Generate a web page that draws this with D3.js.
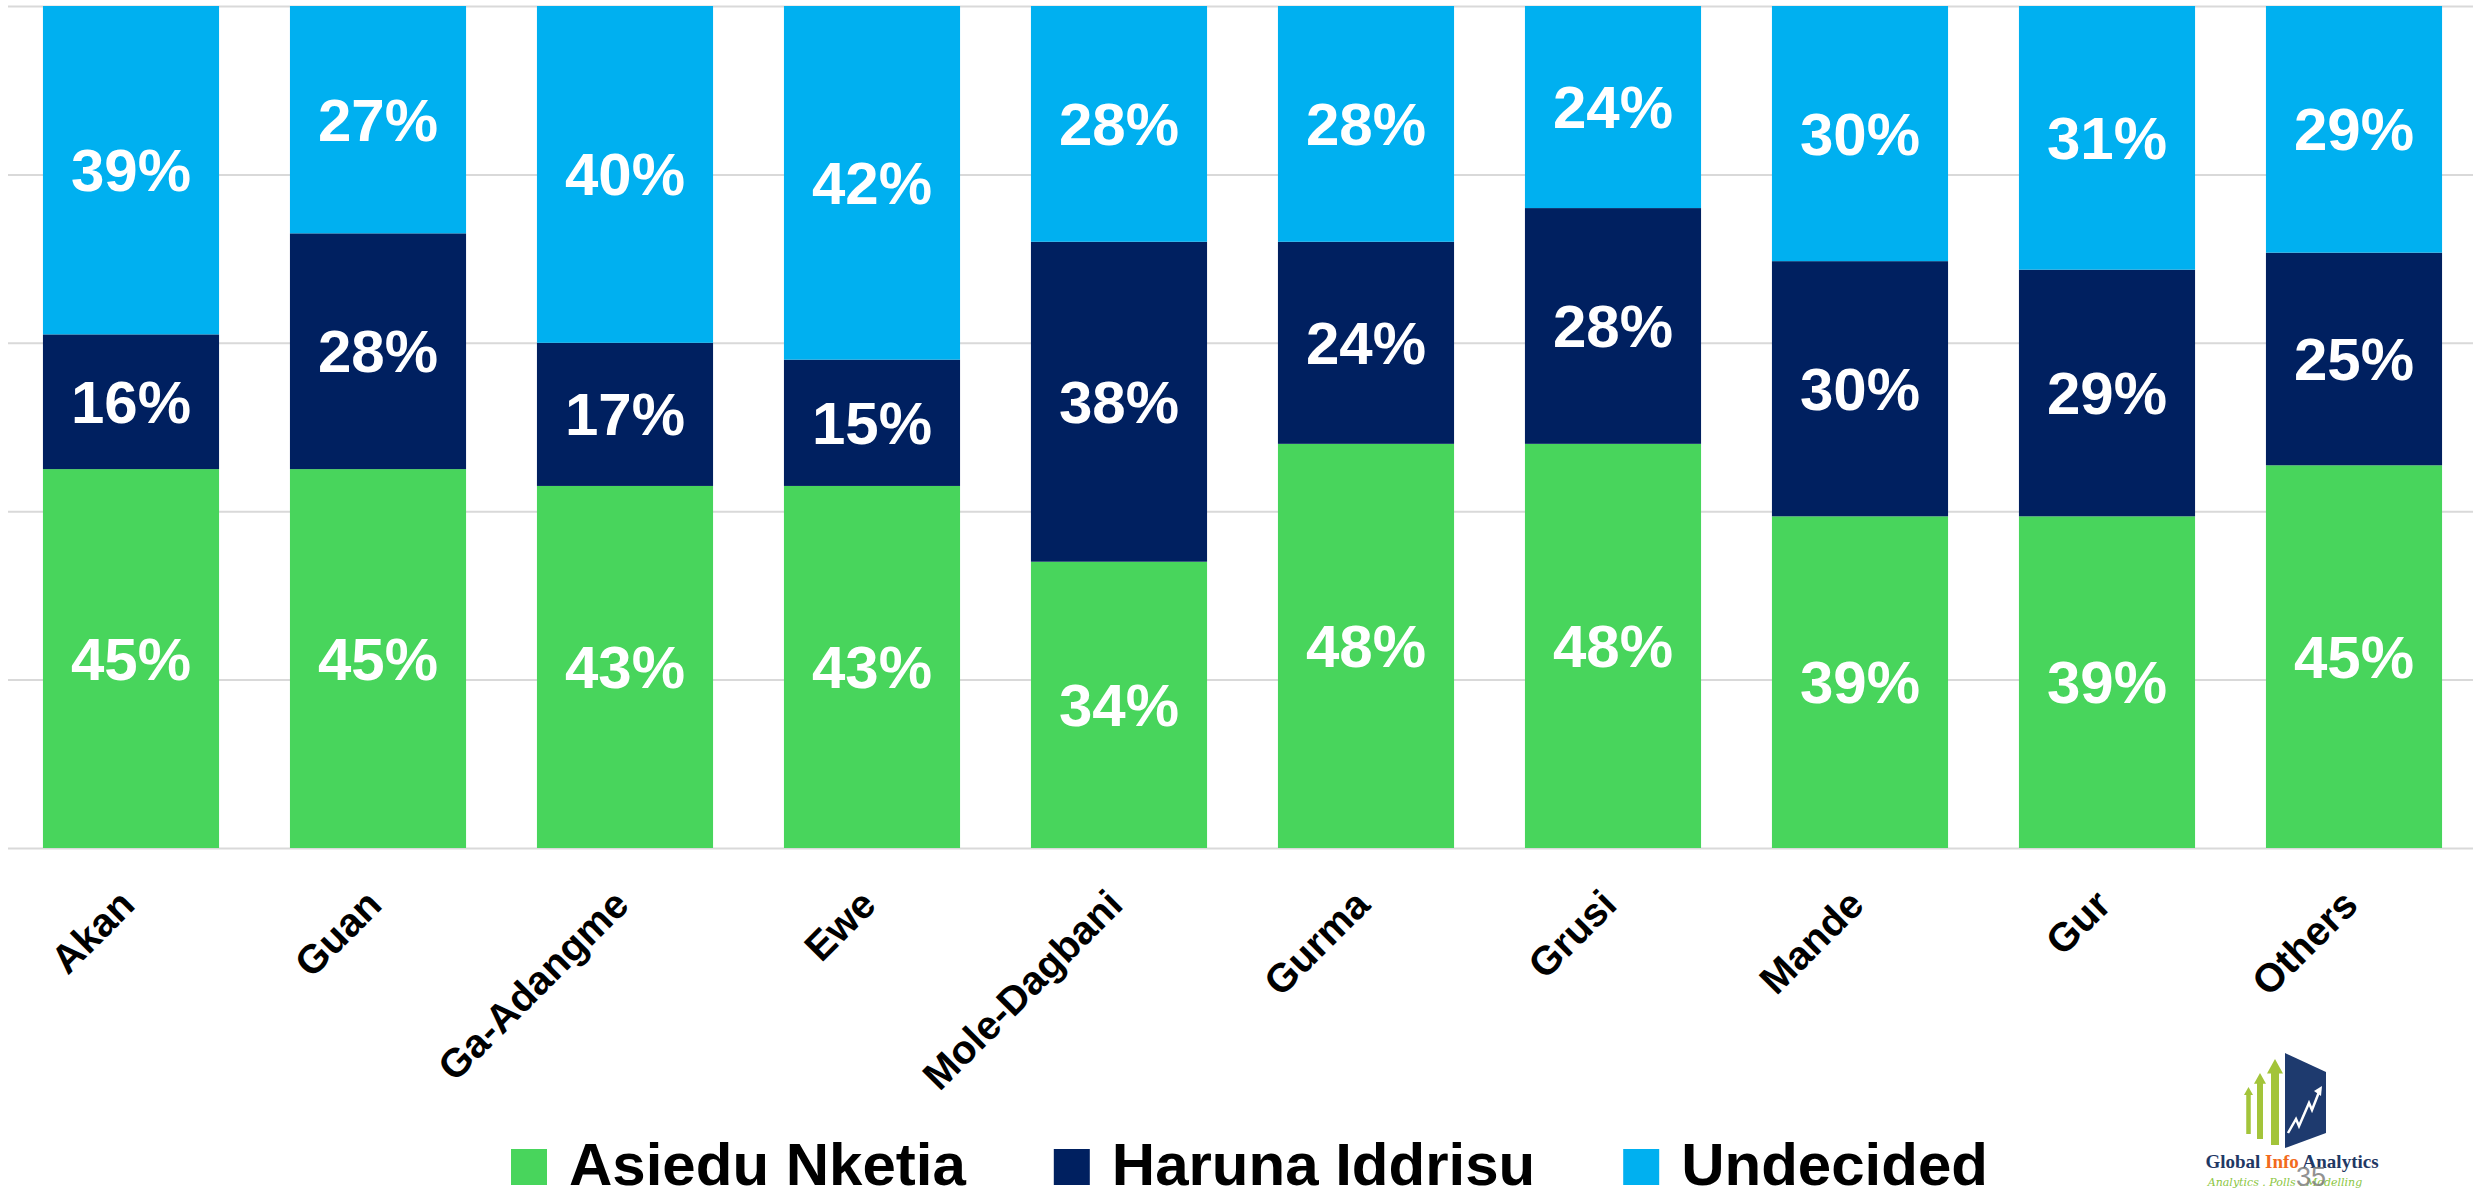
<!DOCTYPE html>
<html>
<head>
<meta charset="utf-8">
<script src="https://cdn.jsdelivr.net/npm/d3@7"></script>
<style>
  html, body { margin: 0; padding: 0; background: #fff; }
  svg { display: block; font-family: Arial, "Liberation Sans", sans-serif; }
  .grid line { stroke: #d9d9d9; stroke-width: 2; }
  .xaxis text { font-size: 40px; font-weight: bold; fill: #000; }
  .val { font-size: 60px; font-weight: bold; fill: #fff; }
  .leg { font-size: 60px; font-weight: bold; fill: #000; }
</style>
</head>
<body>
<script>
// groups along the bottom
var groups = ['Akan', 'Guan', 'Ga-Adangme', 'Ewe', 'Mole-Dagbani', 'Gurma', 'Grusi', 'Mande', 'Gur', 'Others']

// share of each group (percent, as printed on the bars)
var asiedu    = [45, 45, 43, 43, 34, 48, 48, 39, 39, 45]
var haruna    = [16, 28, 17, 15, 38, 24, 28, 30, 29, 25]
var undecided = [39, 27, 40, 42, 28, 28, 24, 30, 31, 29]

var seriesNames = ['Asiedu Nketia', 'Haruna Iddrisu', 'Undecided']
var colors = ['#48d55c', '#002060', '#00b0f0']

var width = 2473,
    height = 1191

var rows = groups.map(function(g, i) {
  return {
    group: g,
    'Asiedu Nketia': asiedu[i],
    'Haruna Iddrisu': haruna[i],
    'Undecided': undecided[i]
  }
})

var svg = d3.select('body').append('svg')
    .attr('width', width)
    .attr('height', height)

var x = d3.scaleBand()
  .domain(groups)
  .range([7.5, 2477.5])
  .paddingInner(0.287)
  .paddingOuter(0.1435)

var y = d3.scaleLinear()
  .domain([0, 1])
  .range([848, 6])

var color = d3.scaleOrdinal().domain(seriesNames).range(colors)

// gridlines
svg.append('g')
  .attr('class', 'grid')
  .attr('transform', 'translate(8,0)')
  .call(d3.axisLeft(y).ticks(5).tickSize(-(width - 8)).tickFormat(''))
  .call(function(g) { g.select('.domain').remove() })

var stacked = d3.stack()
  .keys(seriesNames)
  .offset(d3.stackOffsetExpand)(rows)

var layer = svg.selectAll('g.layer')
  .data(stacked)
  .enter().append('g')
    .attr('class', 'layer')
    .attr('fill', function(d) { return color(d.key) })

layer.selectAll('rect')
  .data(function(d) { return d })
  .enter().append('rect')
    .attr('x', function(d) { return x(d.data.group) })
    .attr('y', function(d) { return y(d[1]) })
    .attr('width', x.bandwidth())
    .attr('height', function(d) { return y(d[0]) - y(d[1]) })

// value labels
stacked.forEach(function(s) {
  svg.append('g').selectAll('text')
    .data(s)
    .enter().append('text')
      .attr('class', 'val')
      .attr('text-anchor', 'middle')
      .attr('x', function(d) { return x(d.data.group) + x.bandwidth() / 2 })
      .attr('y', function(d) { return (y(d[0]) + y(d[1])) / 2 })
      .attr('dy', '.35em')
      .text(function(d) { return d.data[s.key] + '%' })
})

// category axis
var xAxis = svg.append('g')
  .attr('class', 'xaxis')
  .attr('transform', 'translate(0,848)')
  .call(d3.axisBottom(x).tickSize(0))
xAxis.select('.domain').remove()
xAxis.selectAll('text')
  .attr('text-anchor', 'end')
  .attr('x', -4)
  .attr('y', 49)
  .attr('dy', '.35em')
  .attr('transform', 'rotate(-45,-4,49)')

// legend
var legend = svg.append('g').attr('class', 'legend')
var lx = 511
seriesNames.forEach(function(name, i) {
  legend.append('rect')
    .attr('x', lx).attr('y', 1149)
    .attr('width', 36).attr('height', 36)
    .attr('fill', colors[i])
  var t = legend.append('text')
    .attr('class', 'leg')
    .attr('x', lx + 58).attr('y', 1185)
    .text(name)
  lx = lx + 58 + t.node().getComputedTextLength() + 88
})

// logo
var logo = svg.append('g').attr('class', 'logo')
var arrowGreen = '#a3c43a'
function arrow(x0, x1, top, bottom) {
  var mid = (x0 + x1) / 2, w = x1 - x0, head = w * 0.9
  return 'M' + (x0 + w * 0.25) + ',' + bottom +
    'L' + (x0 + w * 0.25) + ',' + (top + head) +
    'L' + x0 + ',' + (top + head) +
    'L' + mid + ',' + top +
    'L' + x1 + ',' + (top + head) +
    'L' + (x1 - w * 0.25) + ',' + (top + head) +
    'L' + (x1 - w * 0.25) + ',' + bottom + 'Z'
}
logo.append('path').attr('d', arrow(2244, 2253, 1087, 1134)).attr('fill', arrowGreen)
logo.append('path').attr('d', arrow(2254, 2266, 1073, 1139)).attr('fill', arrowGreen)
logo.append('path').attr('d', arrow(2267, 2283, 1059, 1145)).attr('fill', arrowGreen)
logo.append('path').attr('d', 'M2285,1053L2326,1072L2326,1133L2285,1148Z').attr('fill', '#1e3a6e')
logo.append('path')
  .attr('d', 'M2288,1133L2296,1119L2299,1126L2309,1103L2312,1110L2319,1092')
  .attr('fill', 'none').attr('stroke', '#fff').attr('stroke-width', 2.5)
logo.append('path').attr('d', 'M2314,1091L2322,1086L2321,1096Z').attr('fill', '#fff')

var brand = logo.append('text')
  .attr('x', 2292).attr('y', 1168)
  .attr('text-anchor', 'middle')
  .style('font-family', '"Liberation Serif", "Times New Roman", serif')
  .style('font-weight', 'bold')
  .style('font-size', '19px')
  .attr('fill', '#1f3864')
brand.append('tspan').text('Global ')
brand.append('tspan').attr('fill', '#f26b1d').text('Info')
brand.append('tspan').text(' Analytics')

logo.append('text')
  .attr('x', 2285).attr('y', 1186)
  .attr('text-anchor', 'middle')
  .style('font-family', '"DejaVu Serif", serif')
  .style('font-style', 'italic')
  .style('font-size', '11px')
  .attr('fill', '#8cc63f')
  .text('Analytics . Polls . Modelling')

logo.append('text')
  .attr('x', 2311).attr('y', 1186)
  .attr('text-anchor', 'middle')
  .style('font-size', '27px')
  .attr('fill', '#808080')
  .attr('opacity', 0.85)
  .text('35')
</script>
</body>
</html>
